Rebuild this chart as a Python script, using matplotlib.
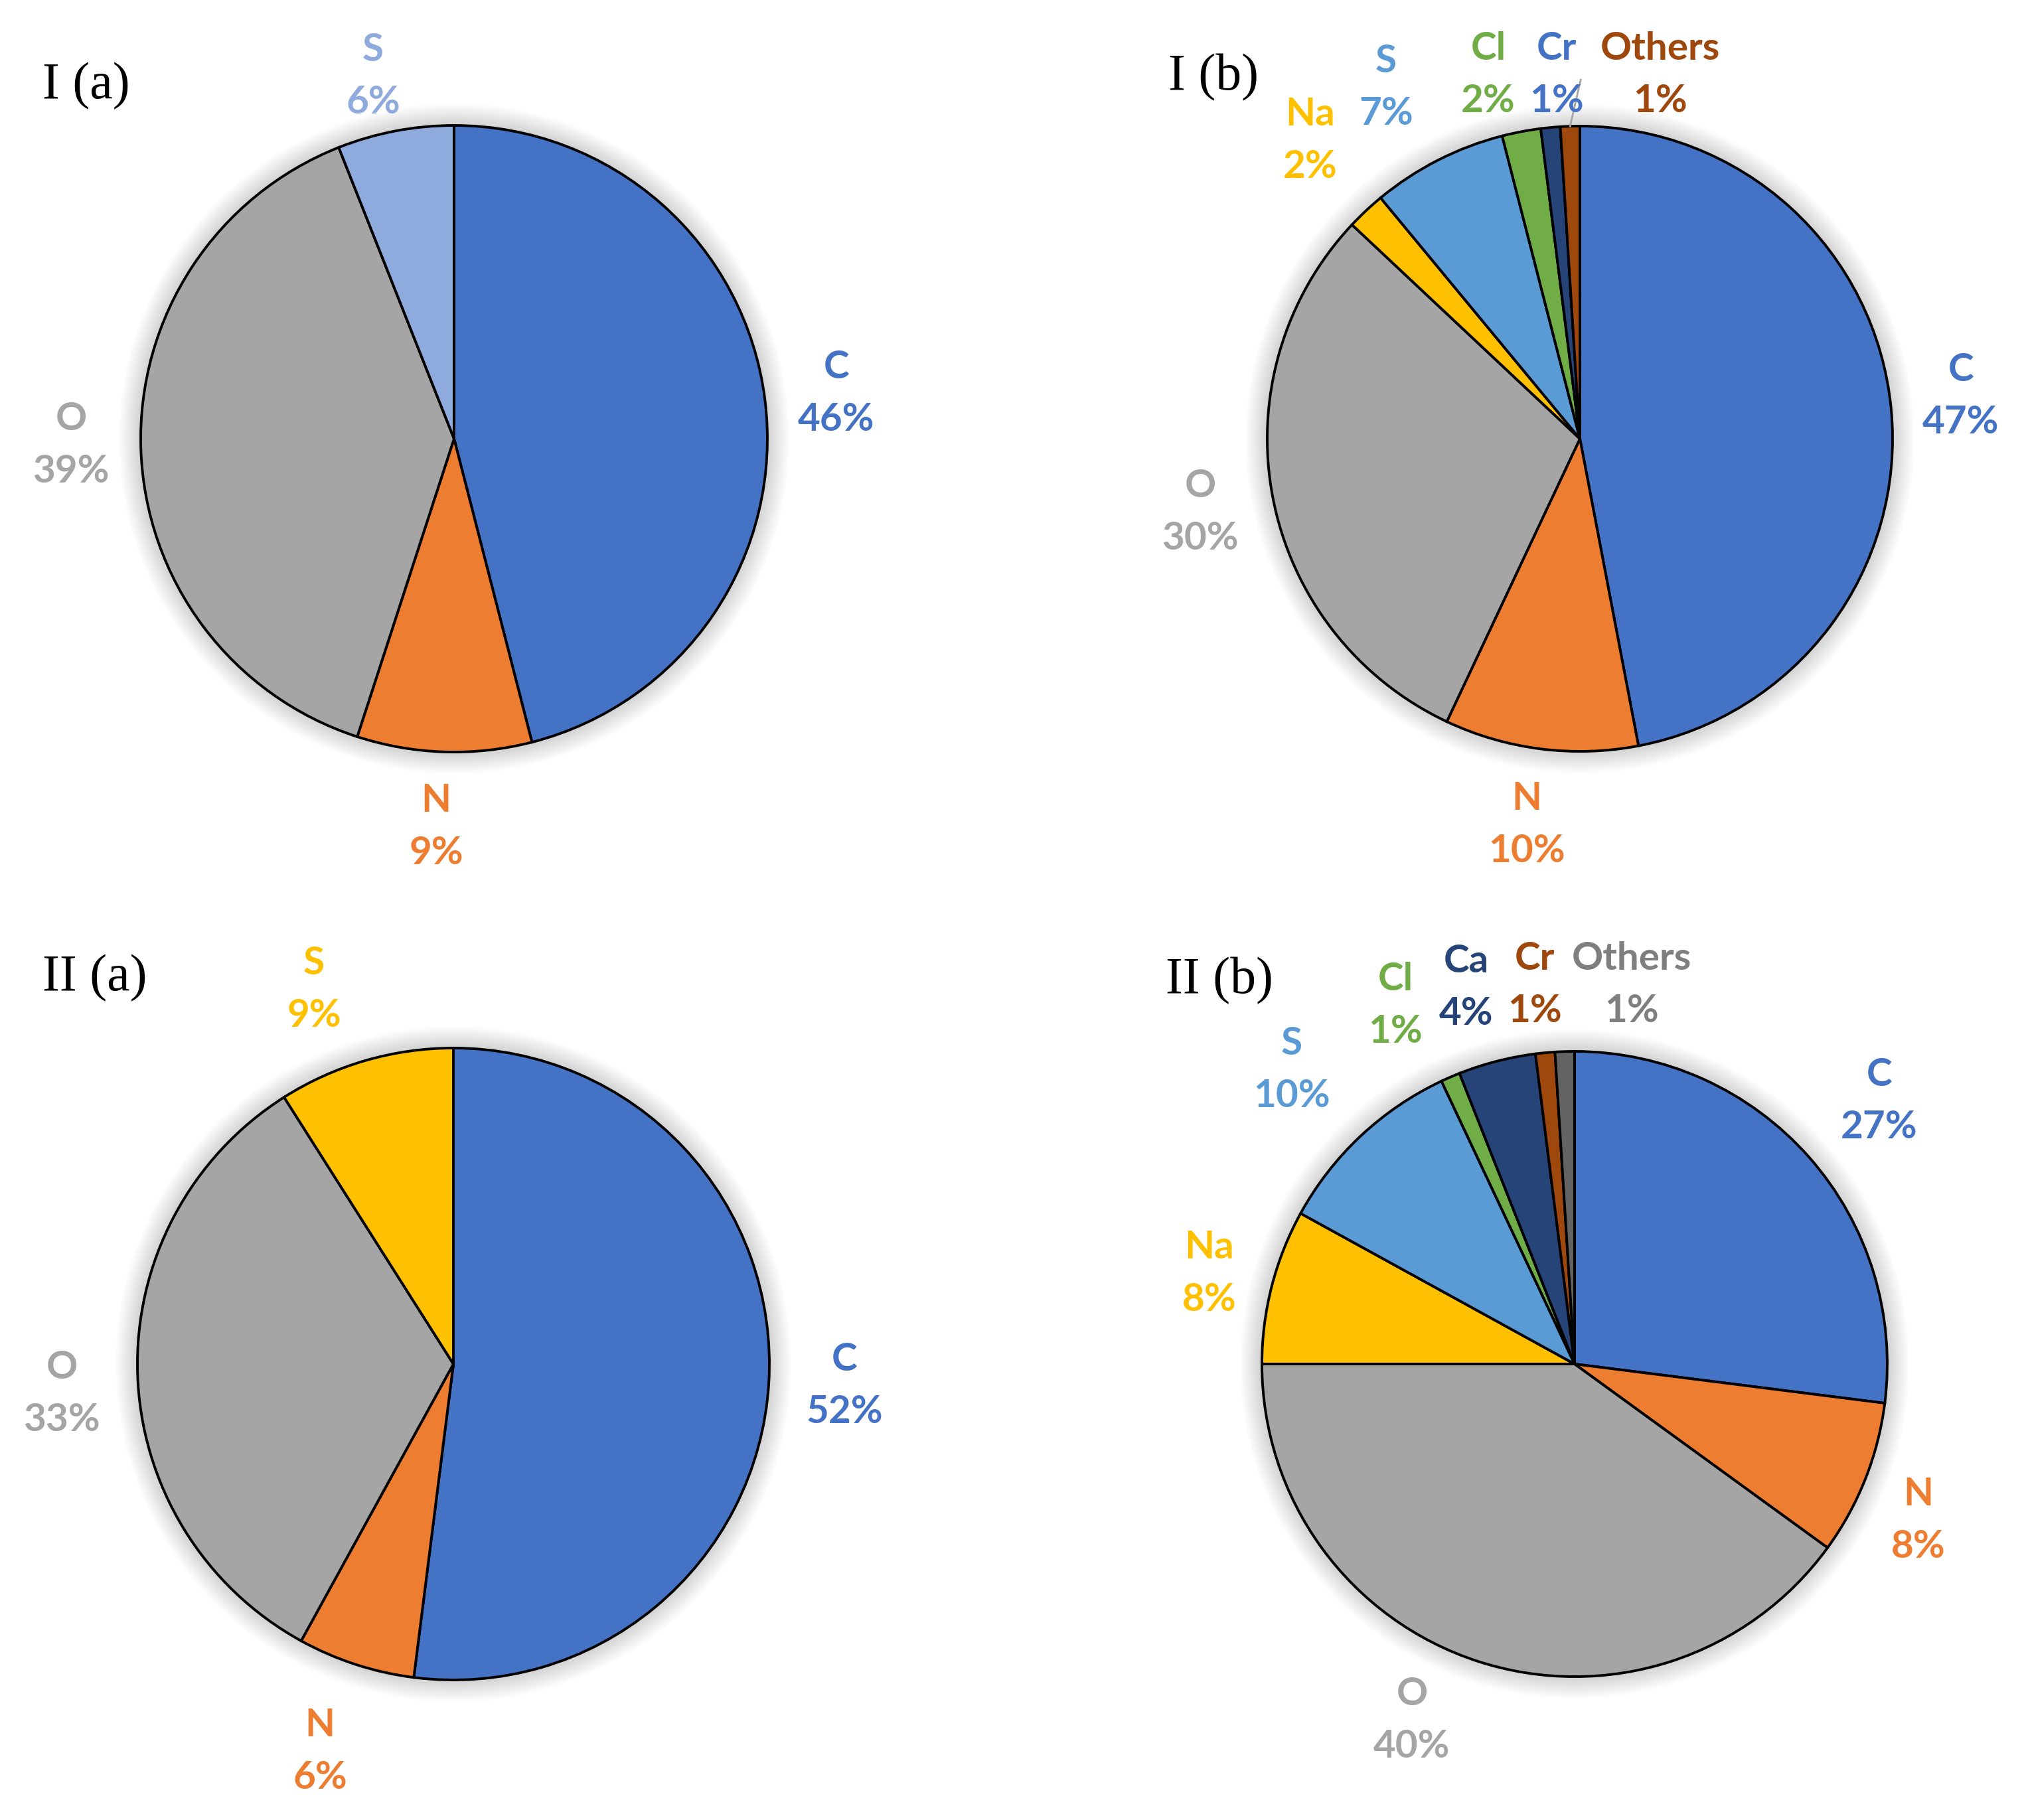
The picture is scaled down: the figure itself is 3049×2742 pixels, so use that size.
import matplotlib
matplotlib.use("Agg")
import matplotlib.pyplot as plt
from matplotlib.patches import Circle
import numpy as np

# ---- data (percent shares) ----
elements_1a = ["C", "N", "O", "S"]
share_1a = [46, 9, 39, 6]

elements_1b = ["C", "N", "O", "Na", "S", "Cl", "Cr", "Others"]
share_1b = [47, 10, 30, 2, 7, 2, 1, 1]

elements_2a = ["C", "N", "O", "S"]
share_2a = [52, 6, 33, 9]

elements_2b = ["C", "N", "O", "Na", "S", "Cl", "Ca", "Cr", "Others"]
share_2b = [27, 8, 40, 8, 10, 1, 4, 1, 1]

titles = ["I (a)", "I (b)", "II (a)", "II (b)"]

# ---- styles ----
BLUE, ORANGE, GRAY, YELLOW = "#4472C4", "#ED7D31", "#A5A5A5", "#FFC000"
LBLUE, GREEN, NAVY, BROWN, DGRAY = "#5B9BD5", "#70AD47", "#264478", "#9E480E", "#636363"

colors_1a = [BLUE, ORANGE, GRAY, "#8FAADC"]
colors_1b = [BLUE, ORANGE, GRAY, YELLOW, LBLUE, GREEN, NAVY, BROWN]
colors_2a = [BLUE, ORANGE, GRAY, YELLOW]
colors_2b = [BLUE, ORANGE, GRAY, YELLOW, LBLUE, GREEN, NAVY, BROWN, DGRAY]

text_1a = colors_1a
text_1b = [BLUE, ORANGE, GRAY, YELLOW, LBLUE, GREEN, BLUE, BROWN]
text_2a = colors_2a
text_2b = [BLUE, ORANGE, GRAY, YELLOW, LBLUE, GREEN, NAVY, BROWN, "#7F7F7F"]

# ---- layout, in pixels of the 3049 x 2742 canvas (y down) ----
W, H = 3049, 2742
DPI = 200

pie_1a = dict(center=(684, 661), radius=472)
pie_1b = dict(center=(2380, 661), radius=471)
pie_2a = dict(center=(683, 2055), radius=476)
pie_2b = dict(center=(2372, 2055), radius=471)

lab_1a = [(1260, 593), (657, 1246), (107, 671), (562, 115)]
lab_1b = [(2954, 597), (2300, 1243), (1808, 772), (1974, 212),
          (2088, 132), (2242, 113), (2345, 113), (2501, 113)]
lab_2a = [(1272, 2088), (482, 2639), (93, 2100), (473, 1491)]
lab_2b = [(2831, 1659), (2890, 2291), (2127, 2592), (1822, 1919),
          (1946, 1612), (2102, 1515), (2209, 1488), (2312, 1484), (2458, 1484)]

title_pos = [(64, 130), (1760, 117), (64, 1474), (1756, 1478)]

panels = [
    (elements_1a, share_1a, colors_1a, text_1a, pie_1a, lab_1a),
    (elements_1b, share_1b, colors_1b, text_1b, pie_1b, lab_1b),
    (elements_2a, share_2a, colors_2a, text_2a, pie_2a, lab_2a),
    (elements_2b, share_2b, colors_2b, text_2b, pie_2b, lab_2b),
]

fig = plt.figure(figsize=(W / DPI, H / DPI), dpi=DPI)
ax = fig.add_axes([0, 0, 1, 1])

for names, vals, cols, tcols, pie, labs in panels:
    cx, cy = pie["center"]
    r = pie["radius"]
    # soft shadow like the Excel original
    for k in range(16):
        ax.add_patch(Circle((cx, H - cy), r + 2.2 * k, facecolor="black",
                            edgecolor="none", alpha=0.011, zorder=0.2))
    ax.pie(vals, colors=cols, startangle=90, counterclock=False,
           center=(cx, H - cy), radius=r,
           wedgeprops=dict(edgecolor="black", linewidth=1.4))
    for name, v, tc, (lx, ly) in zip(names, vals, tcols, labs):
        ax.text(lx, H - ly, f"{name}\n{v}%", color=tc, fontsize=21,
                fontfamily="Lato", fontweight="bold", ha="center",
                va="center", linespacing=1.6, zorder=5)

# leader line for the thin "Others" slice in I (b)
cx, cy = pie_1b["center"]
r = pie_1b["radius"]
start = 90 - 360 * sum(share_1b[:-1]) / 100
mid = np.deg2rad(start - 360 * share_1b[-1] / 200)
ax.plot([cx + r * np.cos(mid), cx + r * np.cos(mid) + 16],
        [H - cy + r * np.sin(mid), H - cy + r * np.sin(mid) + 70],
        color="#A5A5A5", lw=1.0, zorder=4)

for t, (tx, ty) in zip(titles, title_pos):
    ax.text(tx, H - ty, t, fontsize=28, fontfamily="Liberation Serif",
            ha="left", va="center", color="black")

ax.set_xlim(0, W)
ax.set_ylim(0, H)
ax.set_aspect("equal")
ax.axis("off")

fig.savefig("out.png", dpi=DPI, facecolor="white")
